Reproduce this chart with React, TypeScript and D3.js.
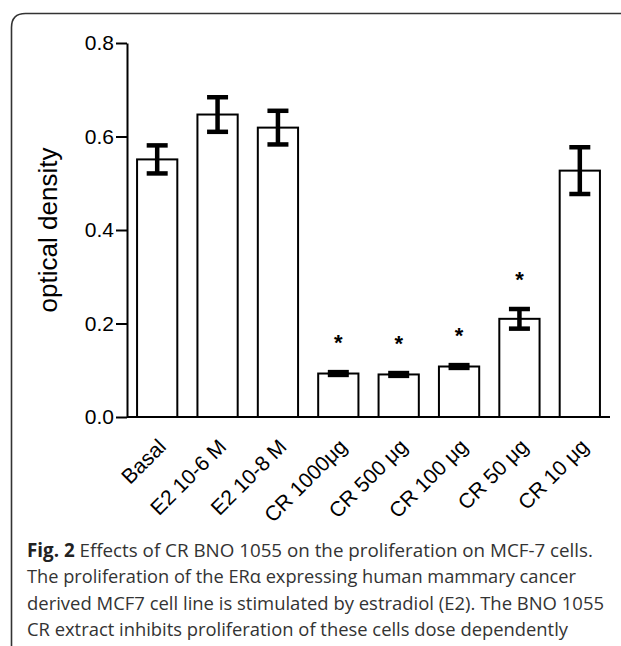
import React, { useRef, useEffect } from 'react';
import * as d3 from 'd3';

// groups, means and SEM
const categories = ["Basal", "E2 10-6 M", "E2 10-8 M", "CR 1000μg", "CR 500 μg", "CR 100 μg", "CR 50 μg", "CR 10 μg"];
const means = [0.551, 0.647, 0.619, 0.093, 0.091, 0.108, 0.210, 0.527];
const errors = [0.030, 0.037, 0.036, 0.003, 0.003, 0.003, 0.021, 0.050];
const significant = [false, false, false, true, true, true, true, false];
const yTicks = [0.0, 0.2, 0.4, 0.6, 0.8];

const captionLines = [
    "Effects of CR BNO 1055 on the proliferation on MCF-7 cells.",
    "The proliferation of the ERα expressing human mammary cancer",
    "derived MCF7 cell line is stimulated by estradiol (E2). The BNO 1055",
    "CR extract inhibits proliferation of these cells dose dependently",
];
const captionEnds = [593, 576, 604, 568];

const App: React.FC = () => {
    const svgRef = useRef<SVGSVGElement | null>(null);

    useEffect(() => {
        if (!svgRef.current) return;
        const svg = d3.select(svgRef.current);
        svg.selectAll("*").remove();

        const width = 621;
        const height = 646;
        const left = 127, right = 610, top = 43, bottom = 417;
        const font = "Liberation Sans, Arial, sans-serif";

        // frame (open to the right and bottom)
        const r = 14;
        svg.append("path")
            .attr("d", `M11.5,${height + 10} L11.5,${13.5 + r} Q11.5,13.5 ${11.5 + r},13.5 L${width + 10},13.5`)
            .attr("fill", "none")
            .attr("stroke", "#333")
            .attr("stroke-width", 1.6);

        const x = d3.scaleBand<string>()
            .domain(categories)
            .range([left, right])
            .paddingInner(1 / 3)
            .paddingOuter(1 / 6);

        const y = d3.scaleLinear().domain([0, 0.8]).range([bottom, top]);

        // y axis
        const yAxis = svg.append("g")
            .attr("transform", `translate(${left},0)`)
            .call(d3.axisLeft(y).tickValues(yTicks).tickFormat(d3.format(".1f")).tickSize(11).tickSizeOuter(0));
        yAxis.select(".domain").attr("stroke", "#000").attr("stroke-width", 2);
        yAxis.selectAll(".tick line").attr("stroke", "#000").attr("stroke-width", 2);
        yAxis.selectAll(".tick text")
            .attr("x", -13)
            .attr("font-family", font)
            .attr("font-size", 21)
            .attr("fill", "#000");

        // bars
        const data = categories.map((c, i) => ({ c, m: means[i], e: errors[i], s: significant[i] }));
        svg.append("g").selectAll("rect")
            .data(data)
            .enter().append("rect")
            .attr("x", d => x(d.c)!)
            .attr("y", d => y(d.m))
            .attr("width", x.bandwidth())
            .attr("height", d => bottom - y(d.m))
            .attr("fill", "#fff")
            .attr("stroke", "#000")
            .attr("stroke-width", 2);

        // error bars
        const capW = 21;
        const eb = svg.append("g").attr("stroke", "#000").attr("stroke-width", 4.5);
        data.forEach(d => {
            const cx = x(d.c)! + x.bandwidth() / 2;
            eb.append("line").attr("x1", cx).attr("x2", cx).attr("y1", y(d.m + d.e)).attr("y2", y(d.m - d.e));
            eb.append("line").attr("x1", cx - capW / 2).attr("x2", cx + capW / 2).attr("y1", y(d.m + d.e)).attr("y2", y(d.m + d.e));
            eb.append("line").attr("x1", cx - capW / 2).attr("x2", cx + capW / 2).attr("y1", y(d.m - d.e)).attr("y2", y(d.m - d.e));
        });

        // asterisks, a little above the error bar
        svg.append("g").selectAll("text")
            .data(data.filter(d => d.s))
            .enter().append("text")
            .attr("x", d => x(d.c)! + x.bandwidth() / 2)
            .attr("y", d => y(d.m + d.e + 0.068) + 10)
            .attr("text-anchor", "middle")
            .attr("font-family", font)
            .attr("font-size", 22)
            .attr("font-weight", "bold")
            .text("*");

        // x axis line
        svg.append("line")
            .attr("x1", left).attr("x2", right)
            .attr("y1", bottom).attr("y2", bottom)
            .attr("stroke", "#000").attr("stroke-width", 2);

        // x labels
        svg.append("g").selectAll("text")
            .data(categories)
            .enter().append("text")
            .attr("transform", d => `translate(${x(d)! + x.bandwidth() / 2 + 10},${bottom + 31}) rotate(-45)`)
            .attr("text-anchor", "end")
            .attr("font-family", font)
            .attr("font-size", 21)
            .text(d => d);

        // y label
        svg.append("text")
            .attr("transform", `translate(57,230) rotate(-90)`)
            .attr("text-anchor", "middle")
            .attr("font-family", font)
            .attr("font-size", 26)
            .text("optical density");

        // caption
        const cap = svg.append("g")
            .attr("font-family", "Open Sans, sans-serif")
            .attr("font-size", 19)
            .attr("fill", "#333");
        captionLines.forEach((line, i) => {
            const t = cap.append("text")
                .attr("x", 27)
                .attr("y", 557 + i * 26.3)
                .attr("textLength", captionEnds[i] - 27)
                .attr("lengthAdjust", "spacingAndGlyphs");
            if (i === 0) {
                t.append("tspan").attr("font-weight", "bold").attr("fill", "#222").text("Fig. 2");
                t.append("tspan").text(" " + line);
            } else {
                t.text(line);
            }
        });
    }, []);

    return <svg ref={svgRef} width="621" height="646" style={{ position: 'absolute', left: 0, top: 0 }}></svg>;
};

export default App;
